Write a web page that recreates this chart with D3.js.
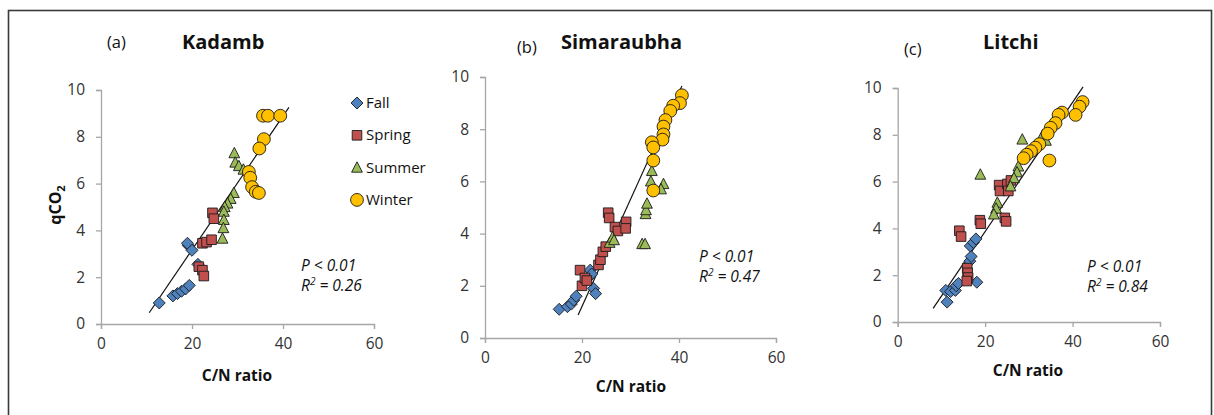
<!DOCTYPE html>
<html><head><meta charset="utf-8">
<script src="https://cdn.jsdelivr.net/npm/d3@7"></script>
<style>
html,body{margin:0;padding:0;background:#fff;}
svg{display:block;font-family:"Open Sans",sans-serif;}
</style></head>
<body><svg id="c" width="1214" height="415"></svg>
<script>
// ---------- data ----------
const seasons = ["Fall", "Spring", "Summer", "Winter"];
const xTicks = [0, 20, 40, 60];
const yTicks = [0, 2, 4, 6, 8, 10];

const kadambFall = [[12.8,0.9],[15.8,1.2],[16.8,1.3],[17.7,1.4],[18.6,1.5],[19.4,1.65],[19.2,3.35],[19.0,3.45],[20.0,3.15],[21.3,2.55]];
const kadambSpring = [[24.5,4.75],[24.8,4.5],[22.3,3.45],[23.2,3.5],[24.3,3.6],[21.5,2.45],[22.3,2.3],[22.6,2.05]];
const kadambSummer = [[29.3,7.3],[29.5,6.9],[30.3,6.75],[31.3,6.6],[29.2,5.6],[28.5,5.35],[27.8,5.15],[27.2,5.0],[27.0,4.8],[27.0,4.45],[26.9,4.1],[26.7,3.65]];
const kadambWinter = [[35.6,8.9],[36.7,8.9],[39.4,8.9],[35.8,7.9],[34.8,7.5],[32.5,6.5],[32.8,6.25],[33.2,5.85],[34.0,5.65],[34.7,5.6]];

const simaFall = [[15.3,1.1],[17.0,1.2],[17.8,1.3],[18.3,1.45],[18.8,1.6],[21.2,2.3],[21.7,2.6],[22.4,1.9],[22.8,1.7],[22.0,2.45]];
const simaSpring = [[19.6,2.6],[20.0,2.0],[20.6,2.3],[21.0,2.2],[23.4,2.8],[23.8,3.0],[24.3,3.3],[24.9,3.5],[25.4,4.8],[25.6,4.6],[26.8,4.25],[27.4,4.1],[29.1,4.45],[29.0,4.2]];
const simaSummer = [[25.7,3.65],[26.3,3.85],[26.6,3.75],[32.4,3.6],[33.0,3.6],[33.1,4.75],[33.2,4.9],[33.4,5.15],[34.2,6.0],[34.4,6.4],[36.8,5.9],[36.3,5.7]];
const simaWinter = [[40.6,9.3],[40.2,9.0],[38.8,8.9],[38.2,8.7],[37.2,8.35],[36.8,8.1],[36.8,7.8],[36.6,7.6],[34.4,7.5],[34.7,7.3],[34.7,6.8],[34.7,5.65]];

const litchiFall = [[11.3,0.85],[11.0,1.35],[12.1,1.3],[13.2,1.35],[13.4,1.55],[13.9,1.65],[18.1,1.7],[16.5,2.6],[16.8,2.8],[16.6,3.25],[17.3,3.4],[17.9,3.55]];
const litchiSpring = [[14.1,3.9],[14.5,3.65],[18.8,4.35],[19.0,4.2],[15.9,2.3],[16.0,2.1],[16.1,1.9],[15.8,1.75],[23.2,5.85],[23.4,5.6],[25.1,5.9],[25.3,5.6],[25.9,6.05],[24.5,4.45],[24.8,4.3]];
const litchiSummer = [[18.9,6.3],[28.5,7.8],[27.6,6.65],[27.3,6.4],[26.6,6.15],[22.8,5.1],[22.5,4.85],[22.0,4.6],[33.2,8.0],[33.9,7.75],[25.8,5.8]];
const litchiWinter = [[42.3,9.4],[41.6,9.2],[40.7,8.85],[37.6,8.95],[36.8,8.85],[36.1,8.5],[35.0,8.3],[34.3,8.05],[32.4,7.6],[31.5,7.45],[30.5,7.3],[29.5,7.15],[28.8,7.0],[34.7,6.9]];

const kadambTrend = [[10.6,0.48],[41.3,9.26]];
const simaTrend = [[19.2,0.88],[40.6,9.66]];
const litchiTrend = [[8.1,0.58],[42.4,10.05]];

const titles = ["Kadamb", "Simaraubha", "Litchi"];
const letters = ["(a)", "(b)", "(c)"];
const r2Labels = ["0.26", "0.47", "0.84"];

// ---------- layout ----------
const colors = {Fall:"#4f81bd", Spring:"#c0504d", Summer:"#9bbb59", Winter:"#ffc000"};
const panels = [
  {x0:101, x1:374, y0:324, y1:90, series:[kadambFall,kadambSpring,kadambSummer,kadambWinter], trend:kadambTrend,
   letter:[107,48], title:[182,49], stats:[301,271], xlab:[237,381]},
  {x0:485, x1:776, y0:338, y1:77, series:[simaFall,simaSpring,simaSummer,simaWinter], trend:simaTrend,
   letter:[517,53], title:[561,49], stats:[699,262], xlab:[631,392]},
  {x0:897.7, x1:1160, y0:322, y1:88, series:[litchiFall,litchiSpring,litchiSummer,litchiWinter], trend:litchiTrend,
   letter:[904,55], title:[983,49], stats:[1087,272], xlab:[1028,376]}
];

const svg = d3.select("#c");
svg.append("rect").attr("x",8.5).attr("y",10.5).attr("width",1203).attr("height",420)
  .attr("fill","none").attr("stroke","#3a3a3a").attr("stroke-width",1.6);

function markerPath(season){
  if(season==="Fall"){ const s=6; return `M0,${-s}L${s},0L0,${s}L${-s},0Z`; }
  if(season==="Spring"){ const s=4.8; return `M${-s},${-s}H${s}V${s}H${-s}Z`; }
  if(season==="Summer"){ return "M0,-5.8L5.4,4.6L-5.4,4.6Z"; }
  return d3.arc()({innerRadius:0,outerRadius:6.4,startAngle:0,endAngle:2*Math.PI});
}

panels.forEach((p,i)=>{
  const xs = d3.scaleLinear().domain([0,60]).range([p.x0,p.x1]);
  const ys = d3.scaleLinear().domain([0,10]).range([p.y0,p.y1]);
  const g = svg.append("g");

  const xa = g.append("g").attr("transform",`translate(0,${p.y0})`)
    .call(d3.axisBottom(xs).tickValues(xTicks).tickSize(5).tickPadding(9).tickFormat(d3.format("d")));
  const ya = g.append("g").attr("transform",`translate(${p.x0},0)`)
    .call(d3.axisLeft(ys).tickValues(yTicks).tickSize(5).tickPadding(11).tickFormat(d3.format("d")));
  [xa,ya].forEach(a=>{
    a.select(".domain").attr("stroke","#a6a6a6").attr("stroke-width",1.3);
    a.selectAll(".tick line").attr("stroke","#a6a6a6").attr("stroke-width",1.3);
    a.selectAll(".tick text").attr("fill","#333").style("font-size","15.5px").style("font-family","Open Sans");
  });

  // trend line
  g.append("line").attr("x1",xs(p.trend[0][0])).attr("y1",ys(p.trend[0][1]))
    .attr("x2",xs(p.trend[1][0])).attr("y2",ys(p.trend[1][1]))
    .attr("stroke","#111").attr("stroke-width",1.2);

  // points
  p.series.forEach((pts,k)=>{
    const season = seasons[k];
    g.append("g").selectAll("path").data(pts).join("path")
      .attr("d",markerPath(season))
      .attr("transform",d=>`translate(${xs(d[0])},${ys(d[1])})`)
      .attr("fill",colors[season]).attr("stroke","#1a1a1a").attr("stroke-width",0.9);
  });

  g.append("text").attr("x",p.letter[0]).attr("y",p.letter[1]).text(letters[i])
    .style("font-size","16.5px").attr("fill","#111");
  g.append("text").attr("x",p.title[0]).attr("y",p.title[1]).text(titles[i])
    .style("font-size","20px").style("font-weight","bold").attr("fill","#111");

  g.append("text").attr("x",p.stats[0]).attr("y",p.stats[1]).text("P < 0.01")
    .style("font-size","15.5px").style("font-style","italic").attr("fill","#111");
  const r = g.append("text").attr("x",p.stats[0]).attr("y",p.stats[1]+20)
    .style("font-size","15.5px").style("font-style","italic").attr("fill","#111");
  r.append("tspan").text("R");
  r.append("tspan").text("2").attr("dy",-6).style("font-size","10px");
  r.append("tspan").text(" = " + r2Labels[i]).attr("dy",6);

  g.append("text").attr("x",p.xlab[0]).attr("y",p.xlab[1]).attr("text-anchor","middle")
    .text("C/N ratio").style("font-size","15.5px").style("font-weight","bold").attr("fill","#111");
});

// y label
const yl = svg.append("text").attr("transform","translate(61,205) rotate(-90)").attr("text-anchor","middle")
  .style("font-size","16px").style("font-weight","bold").attr("fill","#111");
yl.append("tspan").text("qCO");
yl.append("tspan").text("2").attr("dy",4).style("font-size","11px");

// legend
const legend = svg.append("g");
seasons.forEach((s,k)=>{
  const yy = 103 + k*32.3;
  legend.append("path").attr("d",markerPath(s)).attr("transform",`translate(357,${yy})`)
    .attr("fill",colors[s]).attr("stroke","#1a1a1a").attr("stroke-width",0.9);
  legend.append("text").attr("x",366).attr("y",yy+5).text(s)
    .style("font-size","15px").attr("fill","#111");
});
</script>
</body></html>
